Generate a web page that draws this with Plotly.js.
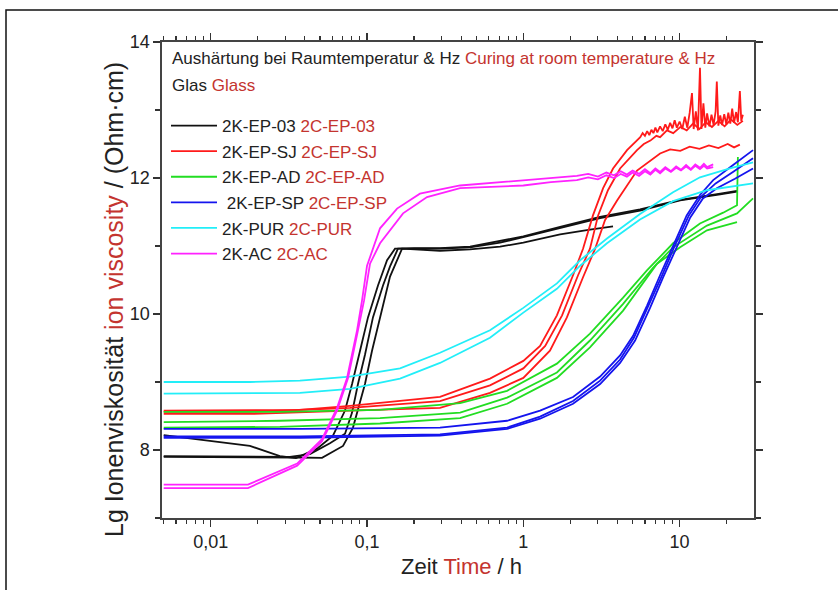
<!DOCTYPE html>
<html>
<head>
<meta charset="utf-8">
<script src="https://cdn.plot.ly/plotly-3.0.1.min.js"></script>
<style>html,body{margin:0;padding:0;background:#fff;}#chart{width:838px;height:590px;}</style>
</head>
<body>
<div id="chart"></div>
<script>
// ---------- DATA (time in h, Lg ion viscosity) ----------
// 2K-EP-03 (black)
const ep03_t1 = [0.005, 0.0178, 0.0277, 0.0351, 0.0479, 0.0605, 0.0723, 0.0802, 0.0902, 0.1014, 0.1175, 0.1343, 0.151, 0.2, 0.293, 0.456, 0.71, 1.0, 1.72, 3.1, 5.58, 10.07, 18.2, 23.3];
const ep03_y1 = [8.22, 8.06, 7.91, 7.88, 8.02, 8.21, 8.58, 8.97, 9.46, 9.95, 10.42, 10.79, 10.96, 10.96, 10.96, 10.98, 11.05, 11.13, 11.26, 11.41, 11.52, 11.67, 11.76, 11.80];
const ep03_t2 = [0.005, 0.02, 0.0321, 0.0431, 0.0579, 0.0723, 0.0802, 0.0875, 0.097, 0.1091, 0.1265, 0.1403, 0.1578, 0.2, 0.293, 0.456, 0.71, 1.0, 1.72, 3.1, 5.58, 10.07, 18.2, 23.3];
const ep03_y2 = [7.91, 7.91, 7.90, 7.94, 8.10, 8.24, 8.55, 8.97, 9.40, 9.95, 10.42, 10.70, 10.96, 10.97, 10.97, 10.99, 11.07, 11.14, 11.28, 11.43, 11.54, 11.68, 11.77, 11.81];
const ep03_t3 = [0.005, 0.02, 0.0351, 0.0515, 0.0702, 0.0813, 0.097, 0.1076, 0.1211, 0.1403, 0.1675, 0.2, 0.293, 0.456, 0.71, 1.0, 1.72, 2.67, 3.75];
const ep03_y3 = [7.90, 7.90, 7.89, 7.885, 8.06, 8.33, 8.97, 9.46, 9.95, 10.55, 10.96, 10.95, 10.93, 10.95, 10.99, 11.05, 11.17, 11.24, 11.29];

// 2K-EP-SJ (red)
const sj_t1 = [0.005, 0.0178, 0.0372, 0.0778, 0.1626, 0.293, 0.612, 1.0, 1.28, 1.64, 2.08, 2.41, 2.79, 3.24, 3.75, 4.61,
  5.6, 5.8, 6.0, 6.2, 6.4, 6.6, 6.8, 7.0, 7.2, 7.5, 7.8, 8.1, 8.4, 8.7, 9.0, 9.3, 9.6, 10.0, 10.4, 10.8, 11.2, 11.6, 12.0, 12.3, 12.7, 13.1, 13.5, 13.8, 14.2, 14.6, 15.0, 15.5, 16.0, 16.5, 17.0, 17.3, 17.7, 18.2, 18.7, 19.3, 19.9, 20.5, 21.1, 21.7, 22.3, 23.0, 23.6, 24.3, 24.8, 25.4];
const sj_y1 = [8.58, 8.58, 8.59, 8.65, 8.72, 8.78, 9.05, 9.31, 9.53, 9.98, 10.57, 10.96, 11.45, 11.85, 12.14, 12.41,
  12.60, 12.66, 12.62, 12.69, 12.63, 12.71, 12.66, 12.74, 12.67, 12.76, 12.69, 12.79, 12.71, 12.81, 12.73, 12.85, 12.74, 12.83, 12.72, 12.90, 12.74, 12.96, 13.25, 12.72, 12.98, 12.70, 13.62, 12.72, 13.10, 12.74, 12.95, 12.76, 12.93, 12.78, 12.98, 13.42, 12.77, 12.92, 12.78, 12.94, 12.79, 12.96, 12.80, 13.02, 12.81, 12.97, 12.82, 13.28, 12.84, 12.93];
const sj_t2 = [0.005, 0.0178, 0.0778, 0.293, 0.612, 1.0, 1.38, 1.77, 2.24, 2.67, 3.01, 3.48, 4.16, 5.34, 5.9, 6.5, 7.1, 7.5, 8.3, 9.1, 10.1, 11.1, 12.2, 13.4, 14.7, 16.1, 17.7, 19.4, 21.3, 23.4, 25.4];
const sj_y2 = [8.56, 8.56, 8.62, 8.72, 8.95, 9.20, 9.53, 9.98, 10.57, 10.96, 11.45, 11.82, 12.14, 12.41, 12.50, 12.55, 12.62, 12.60, 12.70, 12.66, 12.75, 12.70, 12.80, 12.72, 12.82, 12.75, 12.84, 12.76, 12.86, 12.78, 12.84];
const sj_t3 = [0.005, 0.0178, 0.0778, 0.293, 0.612, 1.0, 1.48, 1.90, 2.41, 2.88, 3.33, 3.98, 5.34, 7.5, 8.7, 10.1, 11.6, 13.4, 15.4, 17.7, 20.3, 22.3, 24.3];
const sj_y3 = [8.53, 8.53, 8.58, 8.62, 8.84, 9.06, 9.46, 9.95, 10.54, 10.96, 11.38, 11.67, 12.11, 12.36, 12.42, 12.40, 12.46, 12.43, 12.48, 12.44, 12.50, 12.45, 12.49];

// 2K-EP-AD (green)
const ad_t1 = [0.005, 0.0277, 0.121, 0.394, 0.787, 1.64, 2.67, 4.35, 6.18, 9.08, 13.5, 19.0, 23.3, 23.6];
const ad_y1 = [8.56, 8.56, 8.59, 8.69, 8.87, 9.27, 9.71, 10.24, 10.64, 11.04, 11.33, 11.49, 11.60, 12.31];
const ad_t2 = [0.005, 0.0277, 0.121, 0.394, 0.787, 1.64, 2.67, 4.35, 6.76, 9.08, 14.96, 23.3, 29.5];
const ad_y2 = [8.41, 8.43, 8.47, 8.55, 8.77, 9.14, 9.61, 10.15, 10.68, 10.98, 11.30, 11.48, 11.70];
const ad_t3 = [0.005, 0.0277, 0.121, 0.394, 0.787, 1.64, 2.67, 4.35, 7.17, 10.07, 14.96, 23.3];
const ad_y3 = [8.33, 8.34, 8.39, 8.47, 8.68, 9.06, 9.51, 10.05, 10.74, 10.98, 11.23, 11.35];

// 2K-EP-SP (blue)
const sp_t1 = [0.005, 0.0372, 0.293, 0.787, 1.28, 2.08, 3.10, 4.16, 5.04, 6.18, 7.50, 9.08, 11.1, 13.5, 16.4, 22.0, 29.5];
const sp_y1 = [8.31, 8.31, 8.33, 8.43, 8.58, 8.78, 9.08, 9.39, 9.68, 10.12, 10.57, 11.01, 11.45, 11.75, 11.97, 12.19, 12.41];
const sp_t2 = [0.005, 0.0372, 0.293, 0.787, 1.28, 2.08, 3.10, 4.16, 5.19, 6.47, 7.84, 9.62, 11.7, 14.1, 17.3, 22.6, 29.5];
const sp_y2 = [8.18, 8.18, 8.21, 8.31, 8.46, 8.68, 8.97, 9.28, 9.61, 10.09, 10.54, 10.98, 11.42, 11.70, 11.85, 11.99, 12.14];
const sp_t3 = [0.005, 0.0372, 0.293, 0.787, 1.28, 2.08, 3.10, 4.16, 5.1, 6.3, 7.7, 9.3, 11.4, 13.8, 17.0, 22.3, 29.5];
const sp_y3 = [8.20, 8.20, 8.23, 8.33, 8.49, 8.72, 9.02, 9.33, 9.65, 10.11, 10.56, 11.00, 11.44, 11.73, 11.92, 12.10, 12.29];

// 2K-PUR (cyan)
const pur_t1 = [0.005, 0.0178, 0.0372, 0.0778, 0.1626, 0.293, 0.612, 1.0, 1.64, 2.31, 3.43, 5.58, 9.08, 13.5, 21.0, 29.5];
const pur_y1 = [9.00, 9.00, 9.02, 9.08, 9.20, 9.43, 9.76, 10.09, 10.45, 10.79, 11.11, 11.47, 11.79, 12.01, 12.14, 12.23];
const pur_t2 = [0.005, 0.0178, 0.0372, 0.0778, 0.1626, 0.293, 0.612, 1.0, 1.64, 2.31, 3.43, 5.58, 9.08, 14.96, 29.5];
const pur_y2 = [8.83, 8.83, 8.84, 8.90, 9.05, 9.28, 9.65, 10.02, 10.37, 10.71, 11.04, 11.39, 11.66, 11.82, 11.92];

// 2K-AC (magenta)
const ac_t1 = [0.005, 0.0173, 0.0357, 0.0515, 0.0643, 0.0745, 0.0863, 0.0929, 0.1, 0.1211, 0.1556, 0.218, 0.394, 1.0, 1.5,
  2.2, 2.6, 3.0, 3.4, 3.8, 4.2, 4.6, 5.0, 5.5, 6.0, 6.5, 7.0, 7.5, 8.1, 8.8, 9.5, 10.2, 11.0, 11.8, 12.6, 13.5, 14.3, 15.0, 16.4];
const ac_y1 = [7.49, 7.49, 7.80, 8.16, 8.62, 9.06, 9.76, 10.20, 10.71, 11.26, 11.55, 11.77, 11.89, 11.97, 12.00,
  12.03, 12.06, 12.02, 12.08, 12.04, 12.10, 12.05, 12.11, 12.06, 12.13, 12.07, 12.14, 12.09, 12.16, 12.10, 12.17, 12.12, 12.19, 12.13, 12.20, 12.15, 12.21, 12.16, 12.20];
const ac_t2 = [0.005, 0.0173, 0.0357, 0.0515, 0.0643, 0.0756, 0.0875, 0.0957, 0.1045, 0.1211, 0.170, 0.242, 0.394, 1.0, 1.5,
  2.2, 2.6, 3.0, 3.4, 3.8, 4.2, 4.6, 5.0, 5.5, 6.0, 6.5, 7.0, 7.5, 8.1, 8.8, 9.5, 10.2, 11.0, 11.8, 12.6, 13.5, 14.3, 15.0, 16.4];
const ac_y2 = [7.44, 7.44, 7.77, 8.13, 8.58, 9.06, 9.76, 10.20, 10.74, 11.04, 11.48, 11.72, 11.85, 11.89, 11.94,
  11.97, 12.01, 11.98, 12.04, 12.00, 12.06, 12.02, 12.08, 12.03, 12.10, 12.05, 12.12, 12.07, 12.14, 12.09, 12.15, 12.11, 12.17, 12.12, 12.18, 12.13, 12.18, 12.14, 12.16];

// Axis ticks
const xMajorVals = [0.01, 0.1, 1, 10];
const xMajorText = ["0,01", "0,1", "1", "10"];
const xMinorVals = [0.005,0.006,0.007,0.008,0.009,0.02,0.03,0.04,0.05,0.06,0.07,0.08,0.09,0.2,0.3,0.4,0.5,0.6,0.7,0.8,0.9,2,3,4,5,6,7,8,9,20,30];
const yMajorVals = [8, 10, 12, 14];
const yMinorVals = [7, 9, 11, 13];

// ---------- STYLE ----------
const RED_TXT = '#c4342f';
const FONT = 'Liberation Sans, Arial, Helvetica, sans-serif';
const series = [
  {name: '2K-EP-03', en: '2C-EP-03', color: '#111111', reps: [[ep03_t1, ep03_y1], [ep03_t2, ep03_y2], [ep03_t3, ep03_y3]]},
  {name: '2K-EP-SJ', en: '2C-EP-SJ', color: '#ff1a1a', reps: [[sj_t1, sj_y1], [sj_t2, sj_y2], [sj_t3, sj_y3]]},
  {name: '2K-EP-AD', en: '2C-EP-AD', color: '#22dd22', reps: [[ad_t1, ad_y1], [ad_t2, ad_y2], [ad_t3, ad_y3]]},
  {name: ' 2K-EP-SP', en: '2C-EP-SP', color: '#1414ee', reps: [[sp_t1, sp_y1], [sp_t2, sp_y2], [sp_t3, sp_y3]]},
  {name: '2K-PUR', en: '2C-PUR', color: '#22eef8', reps: [[pur_t1, pur_y1], [pur_t2, pur_y2]]},
  {name: '2K-AC', en: '2C-AC', color: '#ff22ff', reps: [[ac_t1, ac_y1], [ac_t2, ac_y2]]}
];

const traces = [];
series.forEach((s, i) => {
  s.reps.forEach((r, j) => {
    traces.push({
      type: 'scatter', mode: 'lines',
      x: r[0], y: r[1],
      line: {color: s.color, width: 1.8},
      legendgroup: 'g' + i,
      showlegend: j === 0,
      name: s.name + ' <span style="color:' + RED_TXT + '">' + s.en + '</span>'
    });
  });
});
// invisible anchor trace so the mirrored (top / right) axes are drawn with their minor ticks
traces.push({type: 'scatter', mode: 'lines', x: [1], y: [7], xaxis: 'x2', yaxis: 'y2', showlegend: false, hoverinfo: 'skip', line: {width: 0}});

const PL = 162, PR = 754, PT = 42, PB = 518;
const px2x = p => (p - PL) / (PR - PL);
const py2y = p => (PB - p) / (PB - PT);

const tickCommon = {ticks: 'outside', tickwidth: 1.3, tickcolor: '#333', showline: true, linecolor: '#444', linewidth: 1.6, showgrid: false, zeroline: false};

const layout = {
  width: 838, height: 590,
  margin: {l: PL, r: 838 - PR, t: PT, b: 590 - PB, pad: 0},
  paper_bgcolor: '#ffffff', plot_bgcolor: '#ffffff',
  font: {family: FONT, color: '#222', size: 16},
  showlegend: true,
  legend: {
    x: px2x(166), y: py2y(108), xanchor: 'left', yanchor: 'top',
    bgcolor: 'rgba(0,0,0,0)', borderwidth: 0,
    font: {family: FONT, size: 17, color: '#222'},
    tracegroupgap: 0.5, itemwidth: 46
  },
  xaxis: Object.assign({}, tickCommon, {
    type: 'log', range: [-2.312, 1.476],
    tickmode: 'array', tickvals: xMajorVals, ticktext: xMajorText, ticklen: 7,
    minor: {tickmode: 'array', tickvals: xMinorVals, ticks: 'outside', ticklen: 4, tickwidth: 1.2, tickcolor: '#333'},
    mirror: 'ticks',
    tickfont: {family: FONT, size: 18, color: '#222'}
  }),
  xaxis2: Object.assign({}, tickCommon, {
    type: 'log', range: [-2.312, 1.476], overlaying: 'x', side: 'top', anchor: 'y',
    tickmode: 'array', tickvals: xMajorVals, ticklen: 7, showticklabels: false,
    minor: {tickmode: 'array', tickvals: xMinorVals, ticks: 'outside', ticklen: 4, tickwidth: 1.2, tickcolor: '#333'}
  }),
  yaxis: Object.assign({}, tickCommon, {
    range: [7, 14],
    tickmode: 'array', tickvals: yMajorVals, ticklen: 7,
    minor: {tickmode: 'array', tickvals: yMinorVals, ticks: 'outside', ticklen: 5, tickwidth: 1.2, tickcolor: '#333'},
    mirror: 'ticks',
    tickfont: {family: FONT, size: 18, color: '#222'}
  }),
  yaxis2: Object.assign({}, tickCommon, {
    range: [7, 14], overlaying: 'y', side: 'right', anchor: 'x',
    tickmode: 'array', tickvals: yMajorVals, ticklen: 7, showticklabels: false,
    minor: {tickmode: 'array', tickvals: yMinorVals, ticks: 'outside', ticklen: 5, tickwidth: 1.2, tickcolor: '#333'}
  }),
  shapes: [
    {type: 'rect', xref: 'paper', yref: 'paper', x0: px2x(6), x1: px2x(850), y0: py2y(600), y1: py2y(10),
     line: {color: '#111', width: 1.5}, fillcolor: 'rgba(0,0,0,0)', layer: 'below'}
  ],
  annotations: [
    {xref: 'paper', yref: 'paper', x: px2x(170), y: py2y(58), xanchor: 'left', yanchor: 'middle', showarrow: false,
     text: 'Aushärtung bei Raumtemperatur &amp; Hz <span style="color:' + RED_TXT + '">Curing at room temperature &amp; Hz</span>',
     font: {family: FONT, size: 17, color: '#222'}},
    {xref: 'paper', yref: 'paper', x: px2x(170), y: py2y(85), xanchor: 'left', yanchor: 'middle', showarrow: false,
     text: 'Glas <span style="color:' + RED_TXT + '">Glass</span>',
     font: {family: FONT, size: 17, color: '#222'}},
    {xref: 'paper', yref: 'paper', x: px2x(461), y: py2y(566), xanchor: 'center', yanchor: 'middle', showarrow: false,
     text: 'Zeit <span style="color:' + RED_TXT + '">Time</span> / h',
     font: {family: FONT, size: 22, color: '#222'}},
    {xref: 'paper', yref: 'paper', x: px2x(114), y: py2y(300), xanchor: 'center', yanchor: 'middle', showarrow: false,
     textangle: -90,
     text: 'Lg Ionenviskosität <span style="color:' + RED_TXT + '">ion viscosity</span> / (Ohm·cm)',
     font: {family: FONT, size: 25, color: '#222'}}
  ]
};

Plotly.newPlot('chart', traces, layout, {staticPlot: true, displayModeBar: false});
</script>
</body>
</html>
